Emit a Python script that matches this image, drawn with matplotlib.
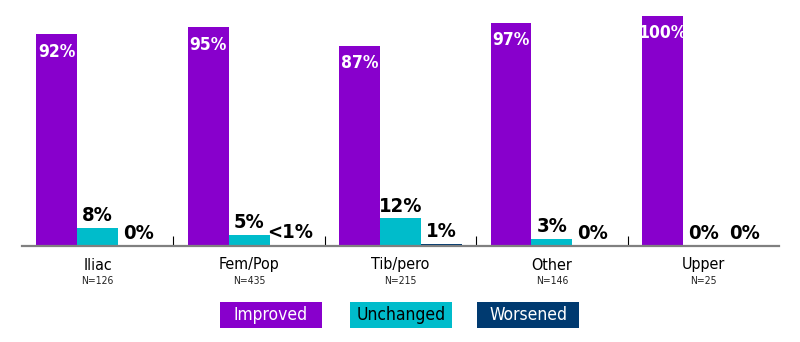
import matplotlib
matplotlib.use('Agg')
import matplotlib.pyplot as plt
from matplotlib.patches import Rectangle
import numpy as np

plt.rcParams['font.family'] = ['DejaVu Sans Condensed', 'DejaVu Sans']
plt.rcParams['font.stretch'] = 'condensed'

categories = ["Iliac", "Fem/Pop", "Tib/pero", "Other", "Upper"]
n_labels = ["N=126", "N=435", "N=215", "N=146", "N=25"]
series = ["Improved", "Unchanged", "Worsened"]
improved = [92, 95, 87, 97, 100]
unchanged = [8, 5, 12, 3, 0]
worsened = [0, 0.5, 1, 0, 0]
colors = ["#8800CC", "#00BCCB", "#003A70"]
legend_text_colors = ["white", "black", "white"]

W, H = 800, 342
fig = plt.figure(figsize=(W / 100, H / 100), dpi=100)
ax = fig.add_axes([22 / W, (H - 246) / H, 757 / W, 230 / H])

x = np.arange(len(categories))
bw = 0.27
for k, (vals, col) in enumerate(zip([improved, unchanged, worsened], colors)):
    xs = x + (k - 1) * bw
    ax.bar(xs, vals, width=bw, color=col, linewidth=0)
    for xi, v in zip(xs, vals):
        lab = "<1%" if 0 < v < 1 else f"{v:g}%"
        if k == 0:
            ax.annotate(lab, (xi, v), xytext=(0, -6), textcoords='offset points',
                        ha='center', va='top', color='white', fontsize=12.5,
                        fontweight='bold')
        else:
            ax.annotate(lab, (xi, v), xytext=(0, 2), textcoords='offset points',
                        ha='center', va='bottom', color='black', fontsize=14.5,
                        fontweight='bold')

ax.set_xlim(-0.5, 4.5)
ax.set_ylim(0, 100)
for s in ['top', 'right', 'left']:
    ax.spines[s].set_visible(False)
ax.spines['bottom'].set_color('#808080')
ax.spines['bottom'].set_linewidth(1.6)
ax.set_xticks(x[:-1] + 0.5)
ax.tick_params(axis='x', direction='in', length=7, width=0.8, color='black',
               labelbottom=False)
ax.set_yticks([])

tr = ax.get_xaxis_transform()
for xi, c, n in zip(x, categories, n_labels):
    ax.text(xi, (246 - 265) / 230, c, transform=tr, ha='center', va='center',
            fontsize=11.5)
    ax.text(xi, (246 - 280.5) / 230, n, transform=tr, ha='center', va='center',
            fontsize=7.5, color='#222222')

leg_x = [220, 350, 477]
for lx, name, col, tc in zip(leg_x, series, colors, legend_text_colors):
    fig.add_artist(Rectangle((lx / W, (H - 328) / H), 102 / W, 26 / H,
                             transform=fig.transFigure, facecolor=col,
                             edgecolor='none'))
    fig.text((lx + 51) / W, (H - 315) / H, name, ha='center', va='center',
             color=tc, fontsize=12.5)

fig.savefig('out.png', dpi=100)
